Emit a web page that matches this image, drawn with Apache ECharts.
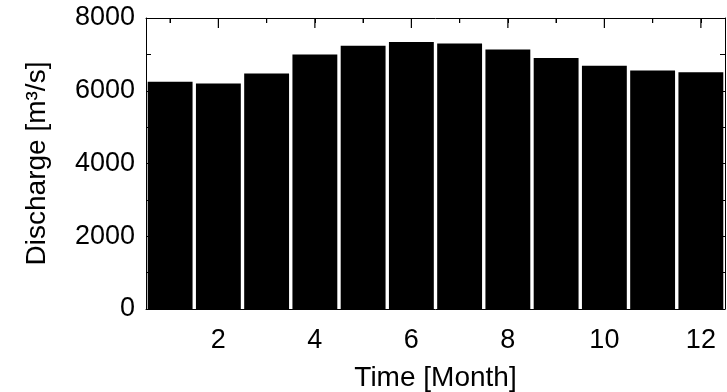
<!DOCTYPE html>
<html>
<head>
<meta charset="utf-8">
<script src="https://cdn.jsdelivr.net/npm/echarts@6/dist/echarts.min.js"></script>
<style>
  html, body { margin: 0; padding: 0; background: #fff; }
  #chart { width: 727px; height: 392px; }
</style>
</head>
<body>
<div id="chart"></div>
<script>
// monthly discharge data
const months = ['1', '2', '3', '4', '5', '6', '7', '8', '9', '10', '11', '12']
const discharge = [6245, 6200, 6475, 7000, 7235, 7340, 7300, 7135, 6900, 6685, 6560, 6510]
const yMin = 0
const yMax = 8000
const yStep = 2000

const font = 'Liberation Sans, Arial, Helvetica, sans-serif'
const evenMonth = (i) => i % 2 === 1

const chart = echarts.init(document.getElementById('chart'))

chart.setOption({
  animation: false,
  backgroundColor: '#fff',
  grid: {
    left: 146,
    right: 2,
    top: 18,
    bottom: 83,
    outerBoundsMode: 'none'
  },
  xAxis: [{
    type: 'category',
    data: months,
    position: 'bottom',
    axisLine: { onZero: false, lineStyle: { color: '#000', width: 1 } },
    axisTick: { show: false },
    axisLabel: {
      interval: evenMonth,
      color: '#000',
      fontSize: 27,
      fontFamily: font,
      margin: 18
    },
    name: 'Time [Month]',
    nameLocation: 'middle',
    nameGap: 55,
    nameTextStyle: { color: '#000', fontSize: 28, fontFamily: font }
  }, {
    // top frame line with short ticks at every month (labels kept white so ticks get drawn)
    type: 'category',
    data: months,
    position: 'top',
    axisLine: { show: true, onZero: false, lineStyle: { color: '#000', width: 1 } },
    axisTick: { show: true, inside: true, length: 5, alignWithLabel: true, interval: 0, lineStyle: { color: '#000', width: 1 } },
    axisLabel: { show: true, interval: 0, color: '#fff', fontSize: 10 }
  }],
  yAxis: [{
    type: 'value',
    min: yMin,
    max: yMax,
    interval: yStep,
    position: 'left',
    axisLine: { show: true, onZero: false, lineStyle: { color: '#000', width: 1 } },
    axisTick: { show: true, inside: true, length: 10 },
    minorTick: { show: true, splitNumber: 2, length: 5, lineStyle: { color: '#000' } },
    splitLine: { show: false },
    axisLabel: { color: '#000', fontSize: 27, fontFamily: font, margin: 11, formatter: (v) => String(v) },
    name: 'Discharge [m³/s]',
    nameLocation: 'middle',
    nameGap: 95,
    nameTextStyle: { color: '#000', fontSize: 28, fontFamily: font }
  }, {
    type: 'value',
    min: yMin,
    max: yMax,
    interval: yStep,
    position: 'right',
    axisLine: { show: true, onZero: false, lineStyle: { color: '#000', width: 1 } },
    axisTick: { show: true, inside: true, length: 10 },
    minorTick: { show: true, splitNumber: 2, length: 5, lineStyle: { color: '#000' } },
    splitLine: { show: false },
    axisLabel: { show: false }
  }],
  series: [{
    type: 'bar',
    data: discharge,
    xAxisIndex: 0,
    yAxisIndex: 0,
    barCategoryGap: '7%',
    itemStyle: { color: '#000' }
  }, {
    // longer inward ticks on the top frame at even months
    type: 'custom',
    xAxisIndex: 0,
    yAxisIndex: 0,
    silent: true,
    z: 50,
    data: months.map((m) => [m, yMax]),
    renderItem(params, api) {
      const idx = api.value(0)
      const p = api.coord([idx, api.value(1)])
      const len = evenMonth(idx) ? 10 : 5
      return {
        type: 'line',
        shape: { x1: p[0], y1: p[1], x2: p[0], y2: p[1] + len },
        style: { stroke: '#000', lineWidth: 1.2 }
      }
    }
  }]
})
</script>
</body>
</html>
